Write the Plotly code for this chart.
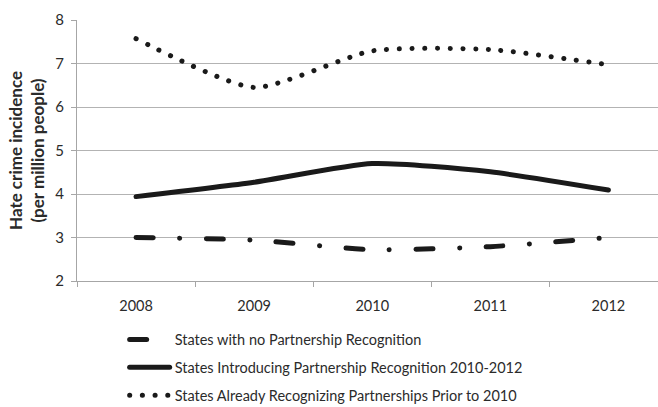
import plotly.graph_objects as go

years = ["2008", "2009", "2010", "2011", "2012"]
no_recognition = [3.00, 2.94, 2.72, 2.79, 3.00]
introducing = [3.94, 4.27, 4.70, 4.51, 4.09]
already_recognizing = [7.57, 6.45, 7.29, 7.32, 6.97]

series_names = [
    "States with no Partnership Recognition",
    "States Introducing Partnership Recognition 2010-2012",
    "States Already Recognizing Partnerships Prior to 2010",
]

ink = "#1a1a1a"
text_color = "#2b2b2b"
font_family = "Lato, sans-serif"

fig = go.Figure()
fig.add_trace(go.Scatter(
    x=years, y=no_recognition, name=series_names[0], mode="lines",
    line=dict(color=ink, width=5, shape="spline", smoothing=0.6,
              dash="17px,26.5px,0.1px,26.5px"),
    legendgroup="a",
))
fig.add_trace(go.Scatter(
    x=years, y=introducing, name=series_names[1], mode="lines",
    line=dict(color=ink, width=5, shape="spline", smoothing=0.6),
    legendgroup="b",
))
fig.add_trace(go.Scatter(
    x=years, y=already_recognizing, name=series_names[2], mode="lines",
    line=dict(color=ink, width=5, shape="spline", smoothing=0.6,
              dash="0.1px,12.6px"),
    legendgroup="c",
))

fig.update_layout(
    width=658, height=407,
    margin=dict(l=77, r=0, t=20, b=126, autoexpand=False),
    paper_bgcolor="white", plot_bgcolor="white",
    font=dict(family=font_family, size=14, color=text_color),
    showlegend=True,
    legend=dict(
        orientation="v", x=0.082, xanchor="left", y=-0.163, yanchor="top",
        traceorder="grouped", tracegroupgap=6,
        font=dict(size=14.5, color=text_color),
        itemwidth=40,
    ),
    xaxis=dict(
        type="category", range=[-0.5, 4.42],
        showgrid=False, showline=True, linecolor="#a6a6a6", linewidth=1,
        ticks="outside", tickson="boundaries", ticklen=5, tickcolor="#a6a6a6",
        ticklabelstandoff=12,
        tickfont=dict(size=14.5, color=text_color), fixedrange=True,
    ),
    yaxis=dict(
        range=[2, 8], dtick=1, tick0=2,
        showgrid=True, gridcolor="#b3b3b3", gridwidth=1,
        showline=True, linecolor="#a6a6a6", linewidth=1,
        ticks="outside", ticklen=5, tickcolor="#a6a6a6",
        ticklabelstandoff=4,
        tickfont=dict(size=15, color=text_color),
        zeroline=False,
        title=dict(
            text="<b>Hate crime incidence<br>(per million people)</b>",
            font=dict(size=17, color=text_color), standoff=6,
        ),
    ),
)

# round line caps so the dotted pattern renders as round dots
round_caps = """
var gd = document.getElementById('{plot_id}');
function roundCaps() {
  gd.querySelectorAll('.scatterlayer .js-line, .legend .js-line').forEach(function (p) {
    p.style.strokeLinecap = 'round';
  });
}
roundCaps();
gd.on('plotly_afterplot', roundCaps);
"""

fig.write_html("out.html", post_script=round_caps)
